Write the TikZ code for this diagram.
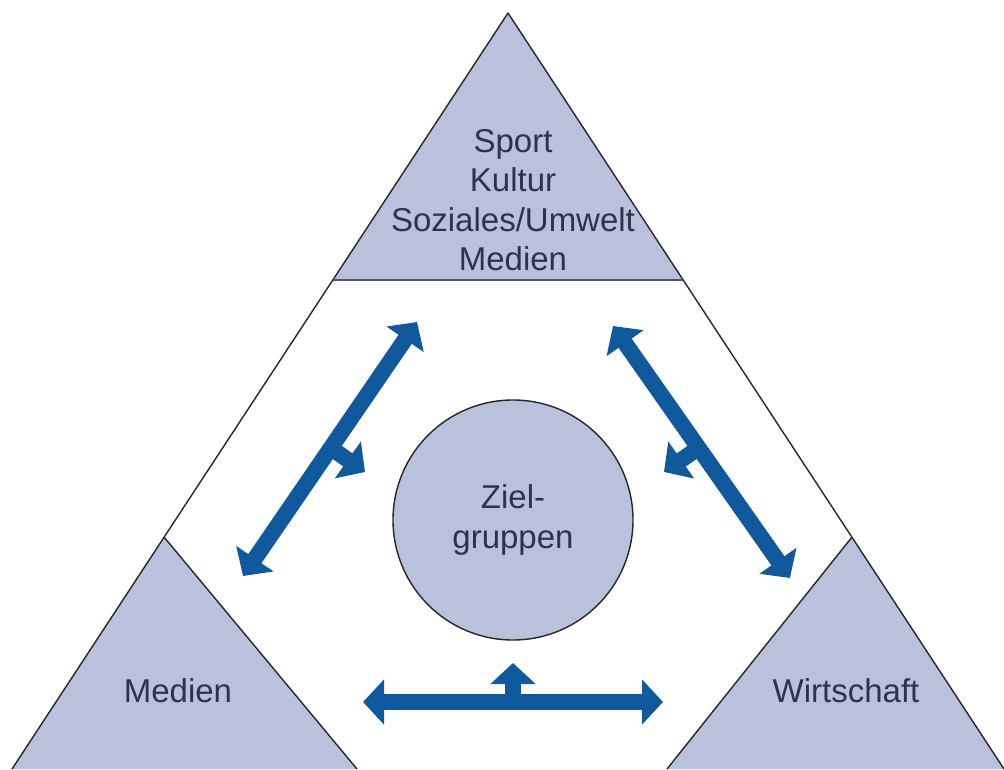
\documentclass[tikz,border=0pt]{standalone}
\usepackage{fontspec}
\setmainfont{Liberation Sans}
\usetikzlibrary{arrows.meta}
\definecolor{fillc}{RGB}{186,193,220}
\definecolor{arrc}{RGB}{16,89,156}
\definecolor{txtc}{RGB}{46,50,78}
\definecolor{bandc}{RGB}{80,85,110}
\begin{document}
\begin{tikzpicture}[x=1pt,y=-1pt,
  edge/.style={draw=black!85,line width=1.4pt,line join=round},
  lbl/.style={text=txtc,font=\fontsize{33}{39.5}\selectfont,inner sep=0pt,align=center},
  bigarrow/.style={draw=arrc,line width=16pt,{Triangle[width=44pt,length=21pt]}-{Triangle[width=44pt,length=21pt]}},
  branch/.style={draw=arrc,line width=16pt,-{Triangle[width=44pt,length=21pt]}}]
\useasboundingbox (0,0) rectangle (1004,769);
% corners
\coordinate (A) at (508,13);
\coordinate (BL) at (12,769);
\coordinate (BR) at (1004,769);
\coordinate (TL) at (333,280);
\coordinate (TR) at (683,280);
\coordinate (LA) at (164,537);
\coordinate (LB) at (357,769);
\coordinate (RA) at (852,537);
\coordinate (RB) at (667,769);
% filled regions
\fill[fillc] (A) -- (TL) -- (TR) -- cycle;
\fill[fillc] (LA) -- (BL) -- (LB) -- cycle;
\fill[fillc] (RA) -- (RB) -- (BR) -- cycle;
% outlines
\draw[edge] (BL) -- (A) -- (BR);
\draw[edge] (LA) -- (LB);
\draw[edge] (RA) -- (RB);
\draw[draw=bandc,line width=2.2pt] (TL) -- (TR);
% circle
\node[circle,fill=fillc,draw=black!85,line width=1.4pt,minimum size=240pt,lbl] (ziel) at (513,520) {Ziel-\\gruppen};
% labels
\node[lbl] (top) at (513,200) {Sport\\Kultur\\Soziales/Umwelt\\Medien};
\node[lbl,anchor=base] (med) at (178,702) {Medien};
\node[lbl,anchor=base] (wir) at (846,702) {Wirtschaft};
% arrows
\coordinate (l1) at (243,576); \coordinate (l2) at (417,322);
\coordinate (lb) at (331,448); \coordinate (lt) at (365,472);
\coordinate (r1) at (613,326); \coordinate (r2) at (790,578);
\coordinate (rb) at (697,449); \coordinate (rt) at (664,472);
\coordinate (b1) at (363,702); \coordinate (b2) at (663,702);
\coordinate (bb) at (513,703); \coordinate (bt) at (513,663);
\draw[branch] (lb) -- (lt);
\draw[branch] (rb) -- (rt);
\draw[branch] (bb) -- (bt);
\draw[bigarrow] (l1) -- (l2);
\draw[bigarrow] (r1) -- (r2);
\draw[bigarrow] (b1) -- (b2);
\end{tikzpicture}
\end{document}
